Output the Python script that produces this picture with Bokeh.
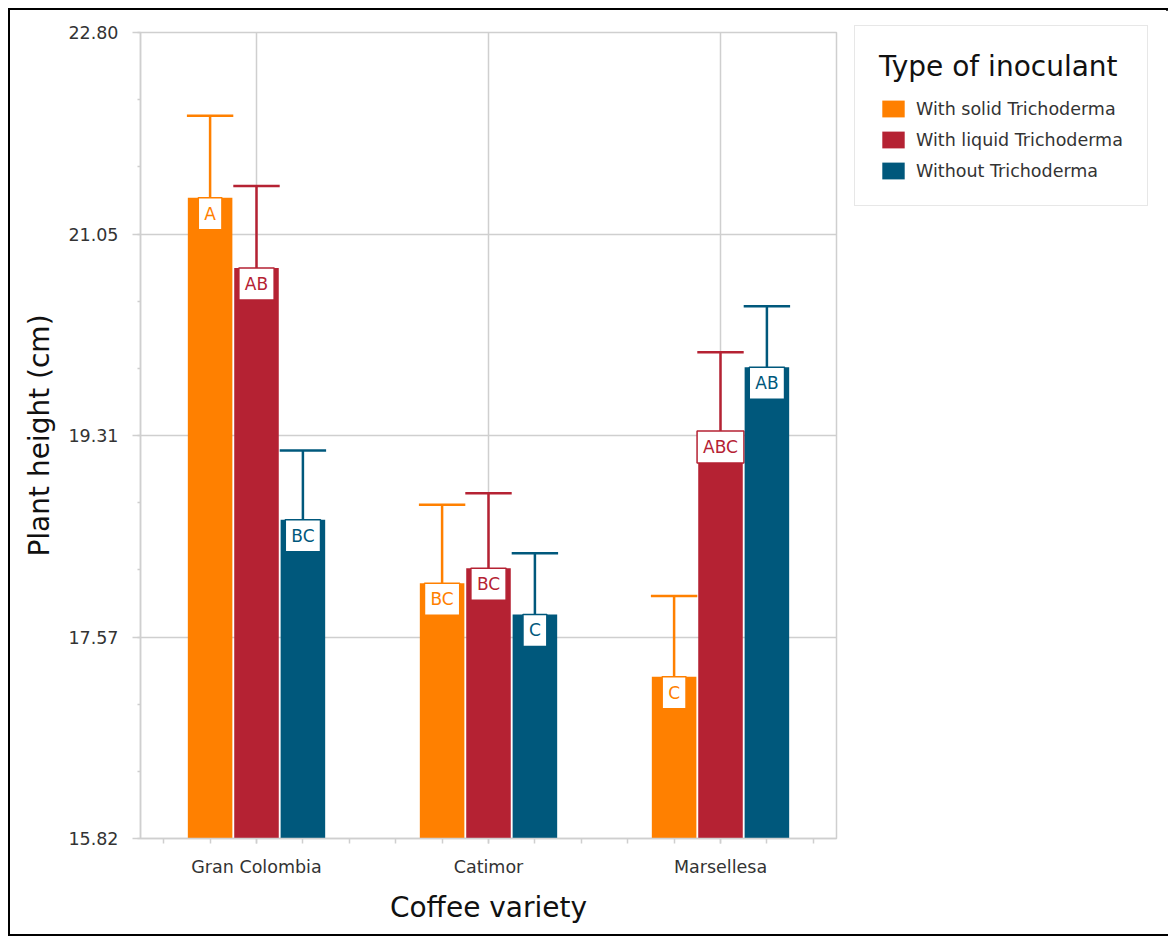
from bokeh.plotting import figure
from bokeh.models import (Range1d, FixedTicker, ColumnDataSource, Legend, LegendItem)
from bokeh.core.properties import value
from bokeh.embed import file_html
from bokeh.resources import INLINE

# ---- data ----
varieties = ["Gran Colombia", "Catimor", "Marsellesa"]
inoculants = ["With solid Trichoderma", "With liquid Trichoderma", "Without Trichoderma"]
solid = [21.37, 18.03, 17.22]
liquid = [20.76, 18.16, 19.35]
without = [18.58, 17.76, 19.90]
solid_err = [0.71, 0.68, 0.70]
liquid_err = [0.71, 0.65, 0.68]
without_err = [0.60, 0.53, 0.53]
solid_letters = ["A", "BC", "C"]
liquid_letters = ["AB", "BC", "ABC"]
without_letters = ["BC", "C", "AB"]
y_ticks = [15.82, 17.565, 19.31, 21.055, 22.80]
y_tick_labels = ["15.82", "17.57", "19.31", "21.05", "22.80"]
colors = ["#FF8000", "#B52233", "#00587C"]

FONT = "DejaVu Sans"
GRAY = "#cfcfcf"

p = figure(frame_width=696, frame_height=806, output_backend="svg",
           toolbar_location=None, x_range=Range1d(0.5, 3.5),
           y_range=Range1d(y_ticks[0], y_ticks[-1]))
p.min_border_left = 130
p.min_border_right = 330
p.min_border_top = 22
p.min_border_bottom = 96
p.styles = {"border": "2px solid black", "box-sizing": "content-box",
            "width": "1156px", "height": "924px", "margin": "8px"}
p.outline_line_color = GRAY
p.outline_line_width = 1.5
p.background_fill_color = "white"
p.border_fill_color = "white"

series = [solid, liquid, without]
errs = [solid_err, liquid_err, without_err]
letters = [solid_letters, liquid_letters, without_letters]
offsets = [-0.2, 0.0, 0.2]
bar_w = 0.192

items = []
for k in range(3):
    xs = [i + 1 + offsets[k] for i in range(len(varieties))]
    tops = series[k]
    ups = [t + e for t, e in zip(tops, errs[k])]
    src = ColumnDataSource(dict(x=xs, top=tops, up=ups,
                                xl=[x - 0.1 for x in xs], xr=[x + 0.1 for x in xs],
                                lab=letters[k]))
    r = p.vbar(x="x", top="top", bottom=y_ticks[0], width=bar_w, source=src,
               fill_color=colors[k], line_color=None)
    p.segment(x0="x", y0="top", x1="x", y1="up", source=src,
              line_color=colors[k], line_width=2.5)
    p.segment(x0="xl", y0="up", x1="xr", y1="up", source=src,
              line_color=colors[k], line_width=2.5)
    p.text(x="x", y="top", text="lab", source=src, text_align="center",
           text_baseline="top", y_offset=0, text_color=colors[k],
           text_font=value(FONT), text_font_size="17px",
           background_fill_color="white", border_line_color=colors[k],
           border_line_width=1.5, padding=6)
    items.append(LegendItem(label=inoculants[k], renderers=[r]))

# axes
xa = p.xaxis[0]
xa.ticker = FixedTicker(ticks=[1, 2, 3],
                        minor_ticks=[0.6 + 0.2 * j for j in range(15)])
xa.major_label_overrides = {i + 1: v for i, v in enumerate(varieties)}
xa.axis_label = "Coffee variety"
ya = p.yaxis[0]
ya.ticker = FixedTicker(ticks=y_ticks,
                        minor_ticks=[y_ticks[0] + j * (y_ticks[-1] - y_ticks[0]) / 12 for j in range(13)])
ya.major_label_overrides = {t: l for t, l in zip(y_ticks, y_tick_labels)}
ya.axis_label = "Plant height (cm)"

for ax in (xa, ya):
    ax.axis_line_color = GRAY
    ax.axis_line_width = 1.5
    ax.major_tick_line_color = GRAY
    ax.minor_tick_line_color = GRAY
    ax.major_tick_line_width = 1.5
    ax.minor_tick_line_width = 1.5
    ax.major_tick_in = 0
    ax.minor_tick_in = 0
    ax.major_label_text_font = FONT
    ax.major_label_text_color = "#333333"
    ax.axis_label_text_font = FONT
    ax.axis_label_text_font_size = "28px"
    ax.axis_label_text_font_style = "normal"
    ax.axis_label_text_color = "#111111"

xa.major_label_text_font_size = "17.5px"
ya.major_label_text_font_size = "17.5px"
xa.major_tick_out = 5
xa.minor_tick_out = 5
xa.major_label_standoff = 13
xa.axis_label_standoff = 11
ya.major_tick_out = 8
ya.minor_tick_out = 3
ya.major_label_standoff = 14
ya.axis_label_standoff = 9

p.xgrid.ticker = FixedTicker(ticks=[1, 2, 3])
p.xgrid.grid_line_color = GRAY
p.xgrid.grid_line_width = 1.5
p.ygrid.grid_line_color = GRAY
p.ygrid.grid_line_width = 1.5

legend = Legend(items=items, location=(18, 632), title="Type of inoculant")
legend.title_text_font = FONT
legend.title_text_font_size = "28px"
legend.title_text_font_style = "normal"
legend.title_text_color = "#111111"
legend.title_standoff = 15
legend.label_text_font = FONT
legend.label_text_font_size = "17.5px"
legend.label_text_color = "#333333"
legend.glyph_width = 28
legend.glyph_height = 21
legend.label_height = 21
legend.label_standoff = 9
legend.spacing = 10
legend.padding = 24
legend.margin = 0
legend.border_line_color = GRAY
legend.border_line_width = 1.5
legend.background_fill_alpha = 1
p.add_layout(legend, "right")

open("out.html", "w").write(file_html(p, INLINE))
